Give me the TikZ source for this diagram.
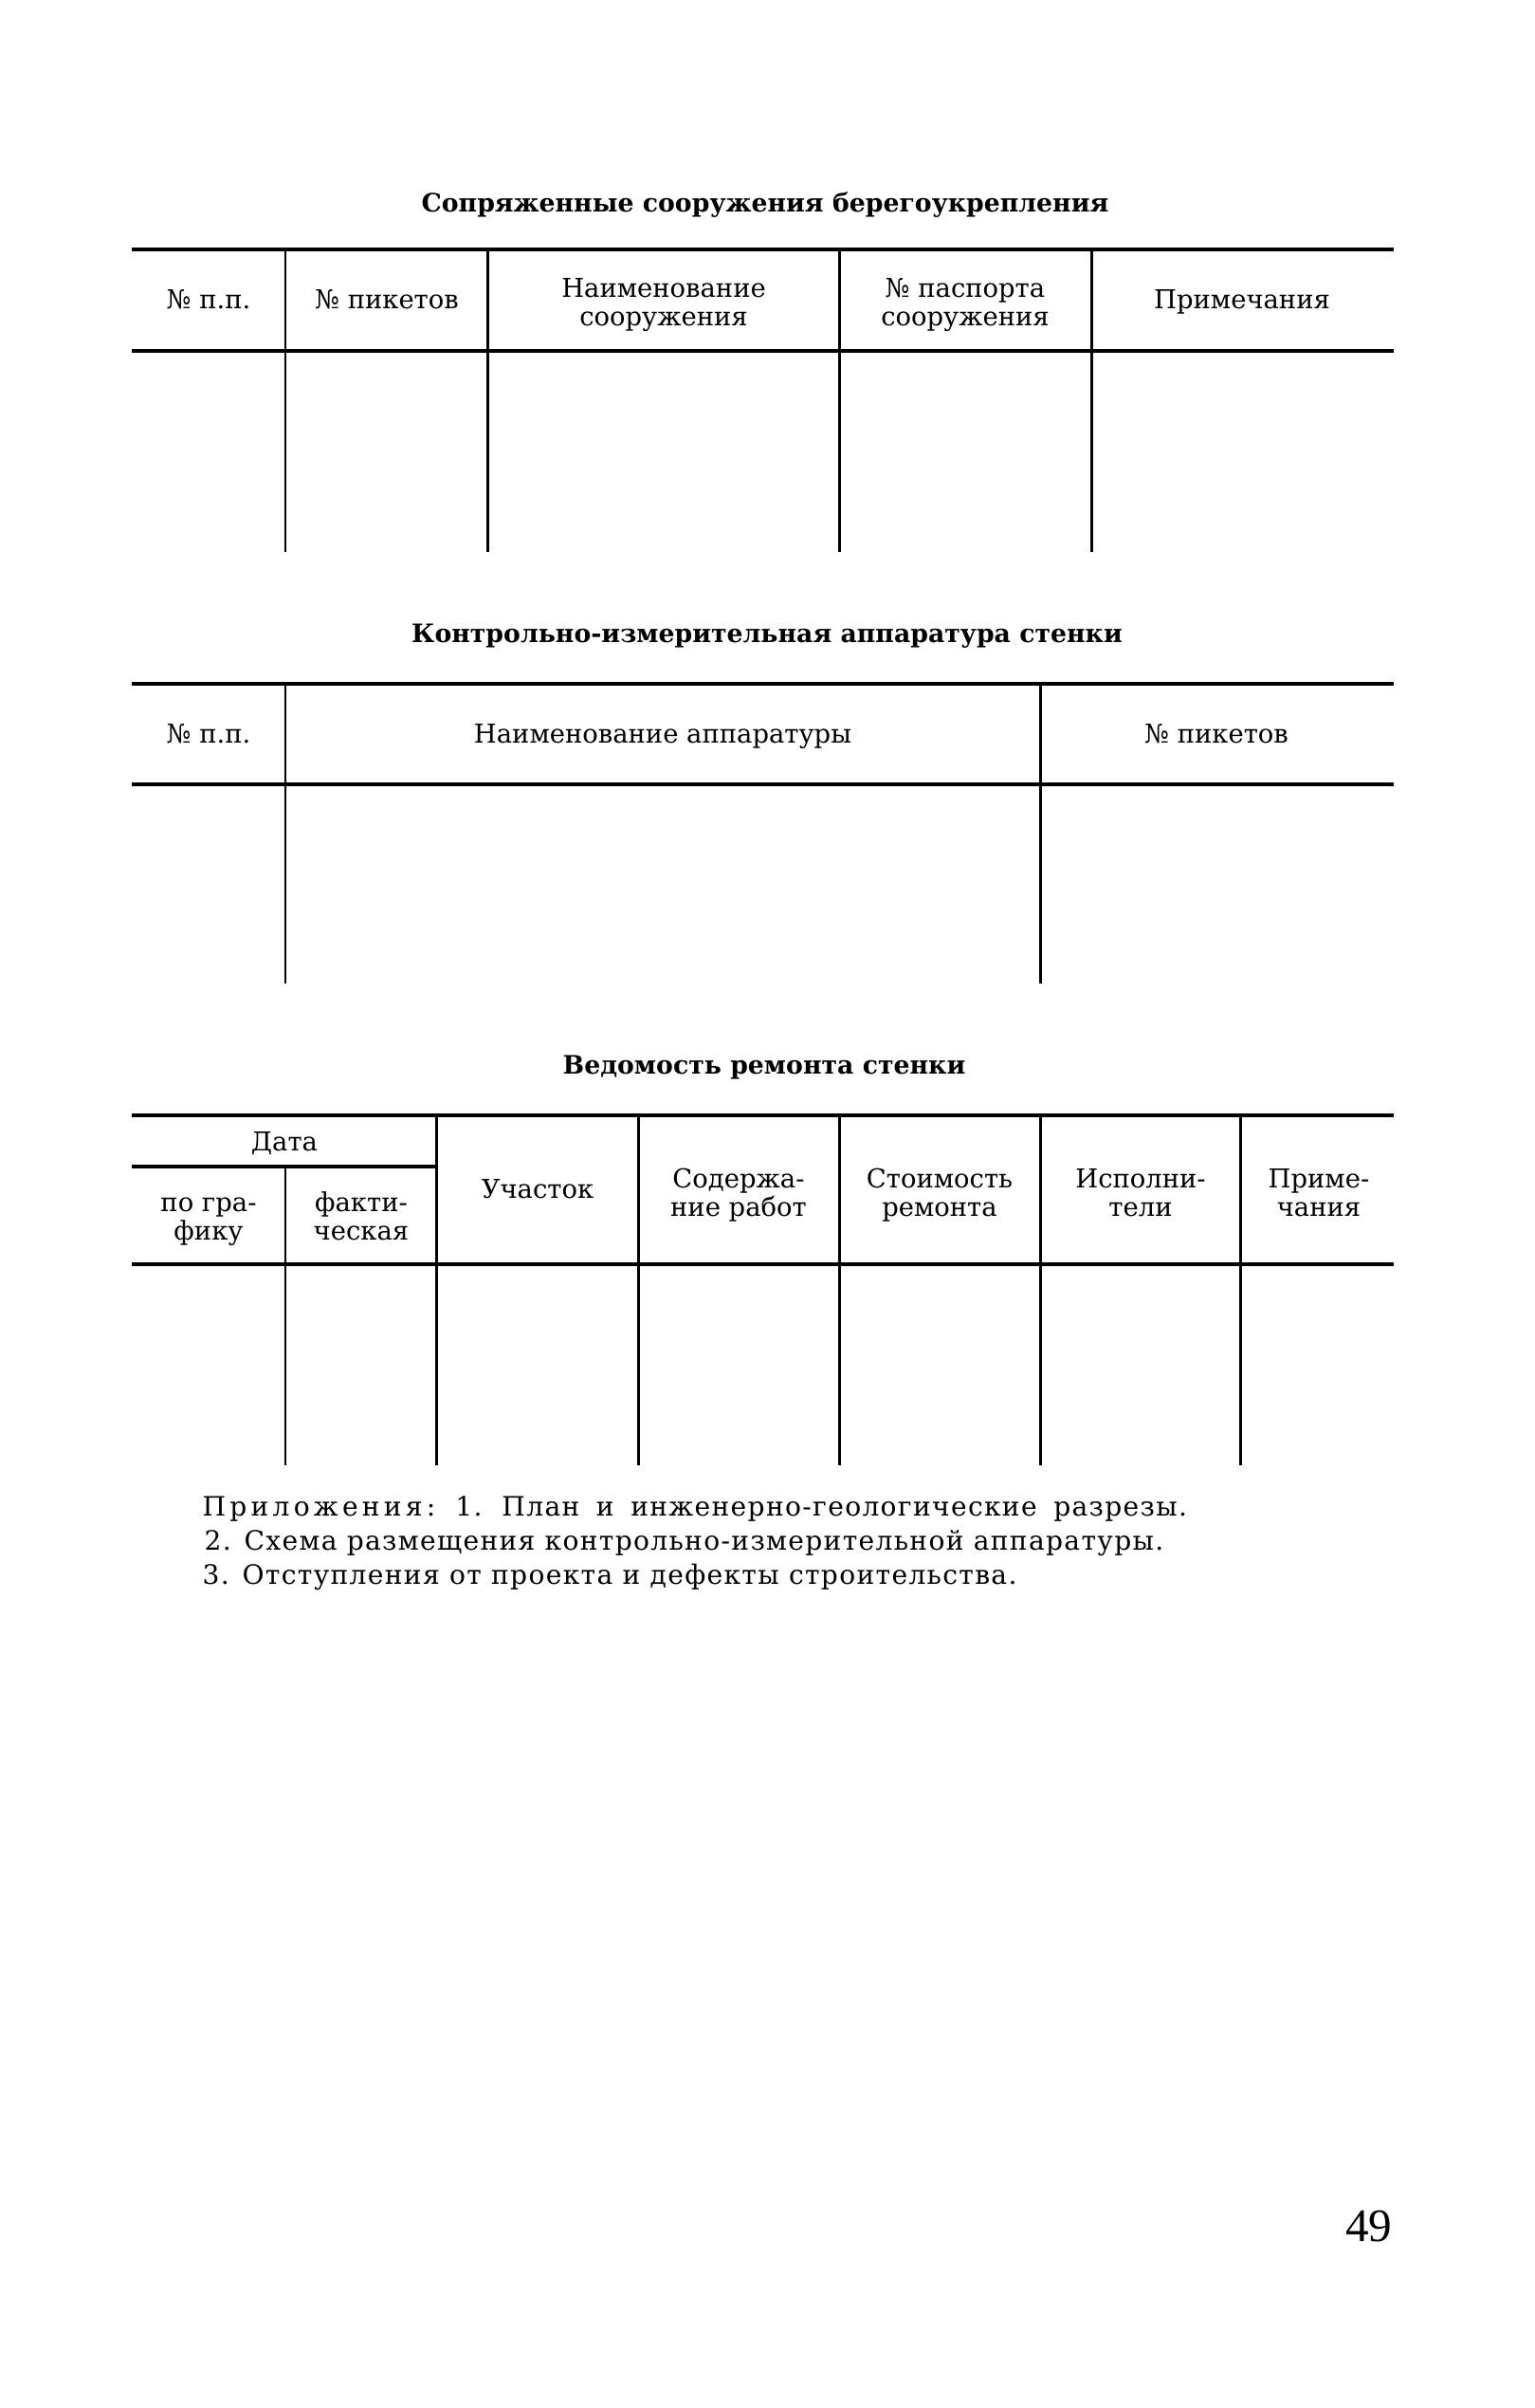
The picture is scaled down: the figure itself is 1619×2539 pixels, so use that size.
\documentclass[tikz,border=0pt]{standalone}
\usepackage{fontspec}
\setmainfont{DejaVu Serif}
\newfontfamily\numfont{Liberation Serif}
\tikzset{
  rule/.style={line width=1.1pt},
  col/.style={line width=0.85pt},
  head/.style={font=\fontsize{7.8}{8.5}\selectfont, align=center, inner sep=0pt, anchor=base},
  caption/.style={font=\fontsize{7.6}{8}\selectfont\bfseries, inner sep=0pt, anchor=base},
  notetext/.style={font=\fontsize{8}{10}\selectfont\addfontfeature{LetterSpace=4.7}, inner sep=0pt, anchor=base west}
}
\begin{document}
\begin{tikzpicture}[x=0.01cm, y=-0.01cm]
\useasboundingbox (0,0) rectangle (1619,2539);

\node[caption] (cap1) at (807,223) {Сопряженные сооружения берегоукрепления};
\draw[rule] (139,263) -- (1470,263);
\draw[rule] (139,370) -- (1470,370);
\foreach \x in {301,514,885,1151}
  \draw[col] (\x,263) -- (\x,582);
\node[head] (pp1) at (220,325) {№ п.п.};
\node[head] (pik1) at (408,325) {№ пикетов};
\node[head] (name1) at (700,343) {Наименование\\сооружения};
\node[head] (pasp1) at (1018,343) {№ паспорта\\сооружения};
\node[head] (prim1) at (1310,325) {Примечания};

\node[caption] (cap2) at (809,677) {Контрольно-измерительная аппаратура стенки};
\draw[rule] (139,721) -- (1470,721);
\draw[rule] (139,827) -- (1470,827);
\foreach \x in {301,1097}
  \draw[col] (\x,721) -- (\x,1037);
\node[head] (pp2) at (220,783) {№ п.п.};
\node[head] (appname2) at (699,783) {Наименование аппаратуры};
\node[head] (pik2) at (1283,783) {№ пикетов};

\node[caption] (cap3) at (806,1132) {Ведомость ремонта стенки};
\draw[rule] (139,1176) -- (1470,1176);
\draw[rule] (139,1230) -- (460,1230);
\draw[rule] (139,1333) -- (1470,1333);
\draw[col] (301,1230) -- (301,1545);
\foreach \x in {460,673,885,1097,1308}
  \draw[col] (\x,1176) -- (\x,1545);
\node[head] (date3) at (300,1213) {Дата};
\node[head] (plan3) at (220,1307) {по гра-\\фику};
\node[head] (fact3) at (381,1307) {факти-\\ческая};
\node[head] (sect3) at (567,1263) {Участок};
\node[head] (work3) at (779,1282) {Содержа-\\ние работ};
\node[head] (cost3) at (991,1282) {Стоимость\\ремонта};
\node[head] (exec3) at (1203,1282) {Исполни-\\тели};
\node[head] (prim3) at (1391,1282) {Приме-\\чания};

\node[notetext] (note1) at (213,1598) {\spaceskip=5pt plus 1pt{\addfontfeature{LetterSpace=15}Приложения:} 1. План и инженерно-геологические разрезы.};
\node[notetext] (note2) at (215,1634) {2. Схема размещения контрольно-измерительной аппаратуры.};
\node[notetext] (note3) at (213,1670) {3. Отступления от проекта и дефекты строительства.};

\node[font=\numfont\fontsize{14}{16}\selectfont, inner sep=0pt, anchor=base east] (page) at (1469,2363) {49};
\end{tikzpicture}
\end{document}
